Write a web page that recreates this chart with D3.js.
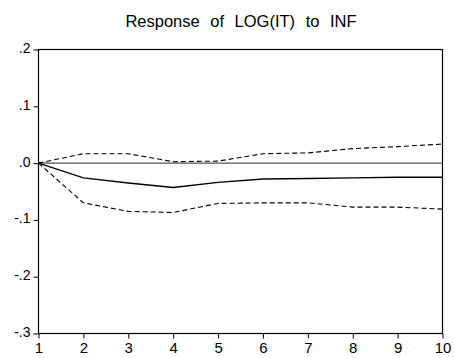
<!DOCTYPE html>
<html><head><meta charset="utf-8">
<script src="https://cdn.jsdelivr.net/npm/d3@7"></script>
<style>body{margin:0;background:#fff}svg{display:block}text{font-family:Arial,"Liberation Sans",sans-serif;fill:#000}</style>
</head><body>
<svg id="c" width="455" height="358"></svg>
<script>
const periods = [1,2,3,4,5,6,7,8,9,10];
const response = [0,-0.026,-0.035,-0.043,-0.034,-0.028,-0.027,-0.026,-0.025,-0.025];
const upperBand = [0,0.0165,0.0165,0.0025,0.0035,0.0165,0.018,0.0255,0.029,0.0335];
const lowerBand = [0,-0.070,-0.085,-0.087,-0.071,-0.070,-0.070,-0.0775,-0.0775,-0.081];
const yTicks = [0.2,0.1,0,-0.1,-0.2,-0.3];
const yTickLabels = [".2",".1",".0","-.1","-.2","-.3"];
const title = "Response of LOG(IT) to INF";

const svg = d3.select("#c");
const L=38.5, R=442.5, T=49.5, B=333.5;
const x = d3.scaleLinear().domain([1,10]).range([L,R]);
const y = d3.scaleLinear().domain([-0.3,0.2]).range([B,T]);

svg.append("text").attr("x",241).attr("y",26.5).attr("text-anchor","middle")
  .style("font-size","16.5px").style("word-spacing","6px").text(title);

// zero line
svg.append("line").attr("x1",L).attr("x2",R).attr("y1",y(0)).attr("y2",y(0))
  .attr("stroke","#555").attr("stroke-width",1.2);

const line = d3.line().x((d,i)=>x(periods[i])).y(d=>y(d));
svg.append("path").datum(upperBand).attr("d",line).attr("fill","none").attr("stroke","#000").attr("stroke-width",1.1).attr("stroke-dasharray","5,3");
svg.append("path").datum(lowerBand).attr("d",line).attr("fill","none").attr("stroke","#000").attr("stroke-width",1.1).attr("stroke-dasharray","5,3");
svg.append("path").datum(response).attr("d",line).attr("fill","none").attr("stroke","#000").attr("stroke-width",1.4);

// frame
svg.append("rect").attr("x",L).attr("y",T).attr("width",R-L).attr("height",B-T)
  .attr("fill","none").attr("stroke","#000").attr("stroke-width",1.2);

const yAxis = d3.axisLeft(y).tickValues(yTicks).tickSize(5).tickPadding(3)
  .tickFormat((d,i)=>yTickLabels[i]);
const gy = svg.append("g").attr("transform",`translate(${L},0)`).call(yAxis);
gy.select(".domain").remove();
gy.selectAll("line").attr("stroke","#000");
gy.selectAll("text").style("font-size","14px").attr("font-family",null).attr("dy","0.22em");

const xAxis = d3.axisBottom(x).tickValues(periods).tickSize(5).tickPadding(4).tickFormat(d3.format("d"));
const gx = svg.append("g").attr("transform",`translate(0,${B})`).call(xAxis);
gx.select(".domain").remove();
gx.selectAll("line").attr("stroke","#000");
gx.selectAll("text").style("font-size","15px").attr("font-family",null);
</script>
</body></html>
